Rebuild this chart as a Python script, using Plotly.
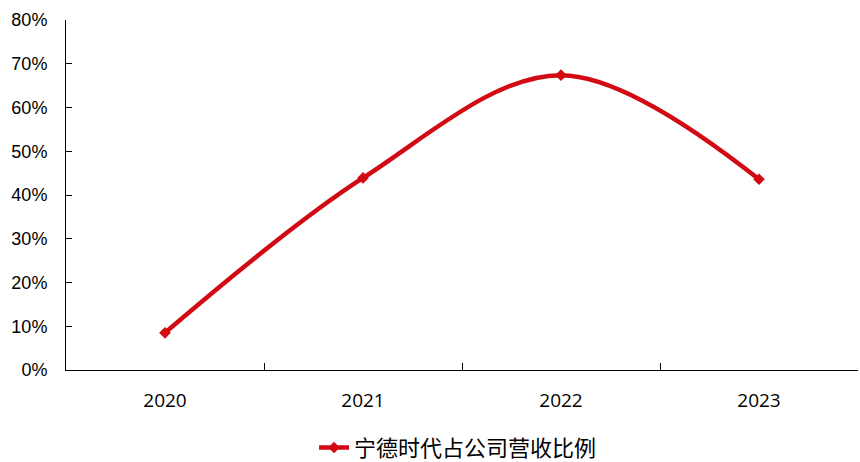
import plotly.graph_objects as go

years = ["2020", "2021", "2022", "2023"]
share = [8.5, 43.9, 67.4, 43.6]
series_name = "宁德时代占公司营收比例"
y_ticks = [0, 10, 20, 30, 40, 50, 60, 70, 80]
y_labels = [f"{v}%" for v in y_ticks]

fig = go.Figure()
fig.add_trace(go.Scatter(
    x=years, y=share, name=series_name,
    mode="lines+markers",
    line=dict(color="#D20A14", width=4.5, shape="spline", smoothing=1.0),
    marker=dict(symbol="diamond", size=9, color="#D20A14"),
))

fig.update_layout(
    width=860, height=462,
    margin=dict(l=66, r=2, t=20, b=92, autoexpand=False),
    paper_bgcolor="white", plot_bgcolor="white",
    font=dict(family="Liberation Sans, Arial, sans-serif", size=16, color="#000"),
    showlegend=True,
    legend=dict(orientation="h", x=0.495, xanchor="center", y=-0.222, yanchor="middle",
                font=dict(family="Noto Sans CJK SC", size=22, color="#000"),
                bgcolor="rgba(0,0,0,0)"),
)
fig.update_xaxes(
    type="category", range=[-0.5, 3.5],
    showline=True, linecolor="#000", linewidth=1,
    ticks="inside", tickson="boundaries", ticklen=7, tickcolor="#000",
    showgrid=False, zeroline=False, ticklabelstandoff=13,
    tickfont=dict(family="Open Sans, Liberation Sans, sans-serif", size=19),
)
fig.update_yaxes(
    range=[0, 80], tickmode="array", tickvals=y_ticks, ticktext=y_labels,
    showline=True, linecolor="#000", linewidth=1,
    ticks="inside", ticklen=6, tickcolor="#000",
    showgrid=False, zeroline=False, ticklabelstandoff=14,
    tickfont=dict(family="Liberation Sans, Arial, sans-serif", size=18),
)

fig.write_html("out.html")
